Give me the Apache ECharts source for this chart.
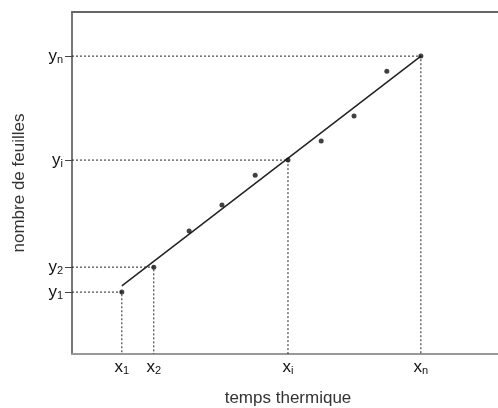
<!DOCTYPE html>
<html>
<head>
<meta charset="utf-8">
<script src="https://cdn.jsdelivr.net/npm/echarts@6/dist/echarts.min.js"></script>
<style>
  html, body { margin: 0; padding: 0; background: #fff; }
  #chart { width: 498px; height: 408px; }
</style>
</head>
<body>
<div id="chart"></div>
<script>
// points repérés (x1, x2, xi, xn) et leurs y
const keyX = [11.7, 19.2, 50.7, 81.9]
const keyY = [18.1, 25.4, 56.7, 87.1]
const keyXNames = ['1', '2', 'i', 'n']
const keyYNames = ['1', '2', 'i', 'n']

// autres mesures
const otherX = [27.5, 35.2, 43.0, 58.5, 66.2, 73.9]
const otherY = [36.0, 43.6, 52.3, 62.3, 69.6, 82.7]

// droite ajustée
const fitX = [11.7, 81.9]
const fitY = [19.9, 87.1]

const chart = echarts.init(document.getElementById('chart'))

const font = 'Liberation Sans, Arial, sans-serif'

function subLabel(letter, names, values) {
  return (v) => {
    let best = 0
    values.forEach((x, i) => {
      if (Math.abs(x - v) < Math.abs(values[best] - v)) best = i
    })
    return '{m|' + letter + '}{s|' + names[best] + '}'
  }
}

const richStyle = {
  m: { fontSize: 17, fontFamily: font, color: '#111', lineHeight: 18, verticalAlign: 'bottom' },
  s: { fontSize: 11, fontFamily: font, color: '#111', lineHeight: 10, verticalAlign: 'bottom' }
}

// lignes pointillées de repère
const guideSeries = keyX.map((x, i) => ({
  type: 'line',
  data: [[0, keyY[i]], [x, keyY[i]], [x, 0]],
  symbol: 'none',
  silent: true,
  lineStyle: { color: '#222', width: 1, type: [2, 2] },
  z: 1
}))

const option = {
  backgroundColor: '#fff',
  animation: false,
  grid: { left: 72, right: 0, top: 12, bottom: 54, outerBoundsMode: 'none', containLabel: false },
  xAxis: [
    {
      type: 'value',
      min: 0,
      max: 100,
      name: 'temps thermique',
      nameLocation: 'middle',
      nameGap: 36,
      nameTextStyle: { fontSize: 17, fontFamily: font, color: '#333', padding: [0, 0, 0, 6] },
      axisLine: { show: true, lineStyle: { color: '#999', width: 2 } },
      axisTick: { show: false },
      splitLine: { show: false },
      axisLabel: {
        customValues: keyX,
        margin: 4,
        formatter: subLabel('x', keyXNames, keyX),
        rich: richStyle
      }
    },
    {
      type: 'value',
      position: 'top',
      min: 0,
      max: 100,
      axisLine: { show: true, lineStyle: { color: '#666', width: 2 } },
      axisTick: { show: false },
      axisLabel: { show: false },
      splitLine: { show: false }
    }
  ],
  yAxis: {
    type: 'value',
    min: 0,
    max: 100,
    name: 'nombre de feuilles',
    nameLocation: 'middle',
    nameGap: 44,
    nameRotate: 90,
    nameTextStyle: { fontSize: 17, fontFamily: font, color: '#333' },
    axisLine: { show: true, lineStyle: { color: '#777', width: 2 } },
    axisTick: { show: true, customValues: keyY, length: 7, lineStyle: { color: '#444' } },
    splitLine: { show: false },
    axisLabel: {
      customValues: keyY,
      margin: 9,
      formatter: subLabel('y', keyYNames, keyY),
      rich: richStyle
    }
  },
  series: [
    ...guideSeries,
    {
      type: 'line',
      data: fitX.map((x, i) => [x, fitY[i]]),
      symbol: 'none',
      lineStyle: { color: '#222', width: 1.5 },
      z: 2
    },
    {
      type: 'scatter',
      data: keyX.map((x, i) => [x, keyY[i]]).concat(otherX.map((x, i) => [x, otherY[i]])),
      symbolSize: 5,
      itemStyle: { color: '#111' },
      z: 3
    }
  ]
}

chart.setOption(option)
</script>
</body>
</html>
